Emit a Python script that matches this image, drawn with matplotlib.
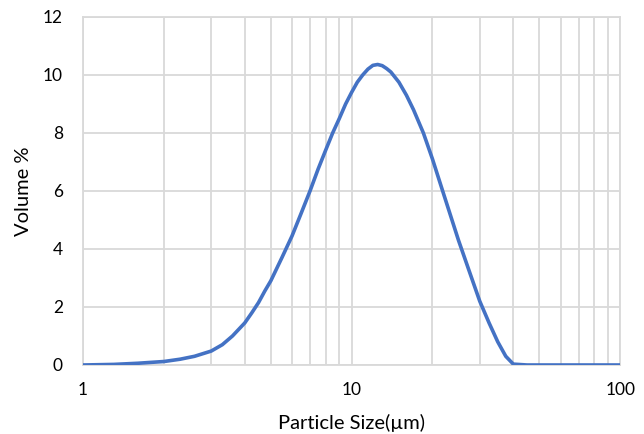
import matplotlib.pyplot as plt
from matplotlib.ticker import FixedLocator, NullFormatter

# particle size (um) and volume %
size_um = [1.0, 1.3, 1.6, 2.0, 2.3, 2.6, 3.0, 3.3, 3.6, 4.0, 4.25, 4.5, 4.75,
           5.0, 5.5, 6.0, 6.5, 7.0, 7.5, 8.0, 8.5, 9.0, 9.5, 10.0, 10.5, 11.0,
           11.5, 12.0, 12.5, 13.0, 13.5, 14.0, 15.0, 16.0, 17.0, 18.5, 20.0,
           22.0, 25.0, 27.5, 30.0, 32.5, 35.0, 37.5, 40.0, 45.0, 60.0, 100.0]
volume_pct = [0.0, 0.02, 0.06, 0.12, 0.2, 0.3, 0.48, 0.7, 1.0, 1.45, 1.8, 2.15,
              2.55, 2.9, 3.7, 4.45, 5.25, 6.0, 6.75, 7.4, 8.0, 8.5, 9.0, 9.4,
              9.75, 10.0, 10.2, 10.33, 10.36, 10.32, 10.22, 10.1, 9.75, 9.3,
              8.8, 8.0, 7.1, 5.9, 4.3, 3.2, 2.2, 1.45, 0.8, 0.3, 0.03, 0.0, 0.0,
              0.0]

fig = plt.figure(figsize=(6.44, 4.34), dpi=100)
ax = fig.add_axes([0.129, 0.159, 0.834, 0.802])

ax.plot(size_um, volume_pct, color='#4472C4', lw=2.6, solid_capstyle='round',
        solid_joinstyle='round', zorder=3)

ax.set_xscale('log')
ax.set_xlim(1, 100)
ax.set_ylim(0, 12)
ax.set_yticks(range(0, 13, 2))
ax.set_xticks([1, 10, 100])
ax.set_xticklabels(['1', '10', '100'])
minor = [m * d for d in (1, 10) for m in range(2, 10)]
ax.xaxis.set_minor_locator(FixedLocator(minor))
ax.xaxis.set_minor_formatter(NullFormatter())

ax.grid(True, which='both', axis='x', color='#d9d9d9', lw=1.3)
ax.grid(True, which='major', axis='y', color='#d9d9d9', lw=1.3)
for s in ax.spines.values():
    s.set_color('#d9d9d9')
    s.set_linewidth(1.3)
ax.tick_params(which='both', length=0, labelsize=12.5, pad=12)
ax.tick_params(axis='y', pad=14.5)

ax.set_xlabel('Particle Size(µm)', fontsize=14.5, labelpad=12, fontfamily='Lato')
ax.set_ylabel('Volume %', fontsize=14.5, labelpad=8, fontfamily='Lato')
for lbl in ax.get_xticklabels() + ax.get_yticklabels():
    lbl.set_fontfamily('Lato')

fig.savefig('out.png', dpi=100)
